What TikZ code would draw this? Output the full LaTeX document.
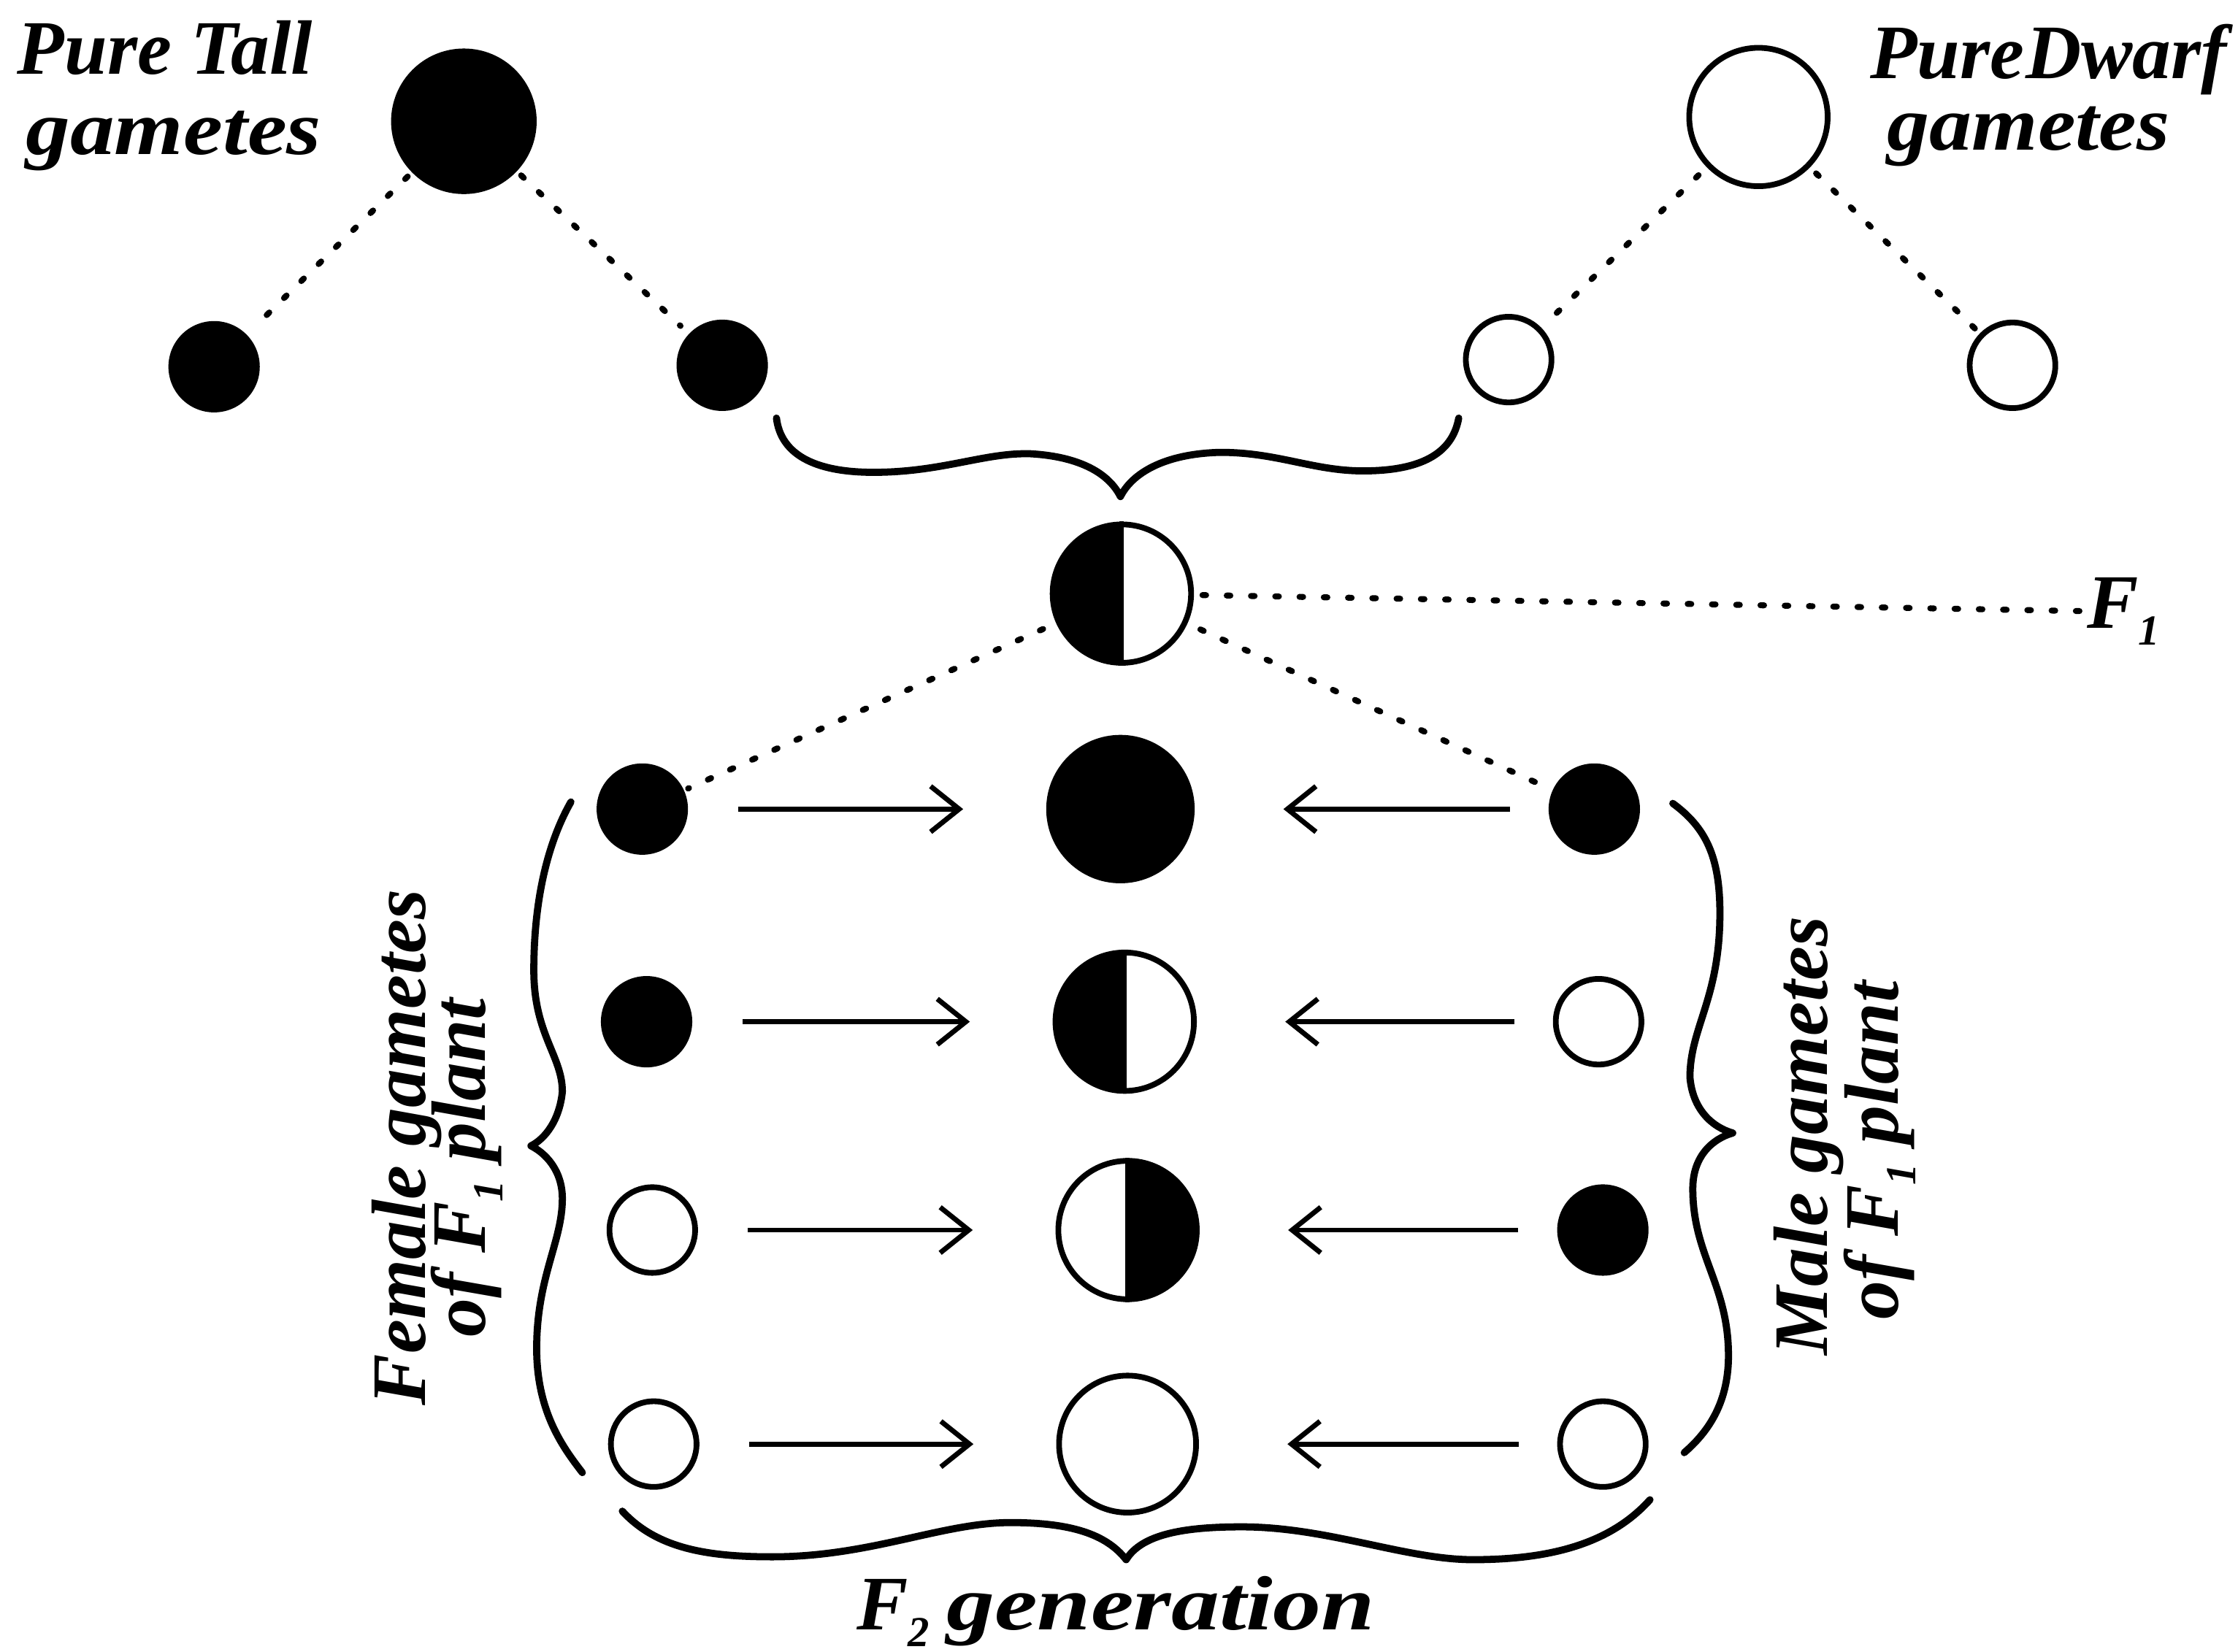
\documentclass[tikz,border=0pt]{standalone}
\usepackage{fontspec}
\setmainfont{Liberation Serif}
\usetikzlibrary{arrows.meta}
\newcommand\lowsub[1]{\raisebox{-12pt}{\fontsize{30}{30}\selectfont #1}}
\newcommand\widen[2]{\scalebox{#1}[1]{#2}}
\begin{document}
\begin{tikzpicture}[x=1pt,y=-1pt,
  lbl/.style={font=\fontsize{54}{60}\selectfont\bfseries\itshape, inner sep=0pt},
  fullg/.style={circle, fill=black, inner sep=0pt, minimum size=#1},
  openg/.style={circle, draw=black, line width=4pt, fill=white, inner sep=0pt, minimum size=#1},
  halfL/.style={openg=97, path picture={\fill[black] (path picture bounding box.south west) rectangle (path picture bounding box.north);}},
  halfR/.style={openg=97, path picture={\fill[black] (path picture bounding box.south east) rectangle (path picture bounding box.north);}},
  dotline/.style={line width=4.2pt, dash pattern=on 2.5pt off 14.5pt, line cap=round},
  arr/.style={line width=3.5pt, -{Straight Barb[length=20pt,width=32pt,line width=3.5pt]}},
  brace/.style={line width=5pt, line cap=round, line join=round},
  divider/.style={line width=3pt},
]
\useasboundingbox (0,0) rectangle (1568,1157.7);

% parents
\node[fullg=102] (tall) at (325,85) {};
\node[openg=97] (dwarf) at (1232,82) {};
\node[fullg=64] (t1) at (150,257) {};
\node[fullg=64] (t2) at (506,256) {};
\node[openg=60] (d1) at (1057,252) {};
\node[openg=60] (d2) at (1410,256) {};

% F1
\node[halfL] (f1) at (786,416) {};
\draw[divider] (f1.north) -- (f1.south);

% rows
\node[fullg=64] (fa) at (450,567) {};
\node[fullg=104] (ca) at (785,567) {};
\node[fullg=64] (ma) at (1117,567) {};

\node[fullg=64] (fb) at (453,716) {};
\node[halfL] (cb) at (788,716) {};
\draw[divider] (cb.north) -- (cb.south);
\node[openg=60] (mb) at (1120,716) {};

\node[openg=60] (fc) at (457,862) {};
\node[halfR] (cc) at (790,862) {};
\draw[divider] (cc.north) -- (cc.south);
\node[fullg=64] (mc) at (1123,862) {};

\node[openg=60] (fd) at (458,1012) {};
\node[openg=96] (cd) at (790,1012) {};
\node[openg=60] (md) at (1123,1012) {};

% labels
\node[lbl, anchor=base west] (ptall) at (12,52) {Pure Tall};
\node[lbl, anchor=base west] (gtall) at (18,108) {\widen{1.15}{gametes}};
\node[lbl, anchor=base west] (pdwarf) at (1310,55) {Pure\hspace{1pt}Dwarf};
\node[lbl, anchor=base west] (gdwarf) at (1322,105) {\widen{1.1}{gametes}};
\node[lbl, anchor=base west] (flab) at (1462,440) {F\lowsub{1}};
\node[lbl, anchor=base west] (f2lab) at (600,1142) {F\lowsub{2}\hspace{12pt}\widen{1.25}{generation}};
\node[lbl, anchor=base west, rotate=90] (fem1) at (298,985) {Female gametes};
\node[lbl, anchor=base west, rotate=90] (fem2) at (340,937) {of F\lowsub{1} plant};
\node[lbl, anchor=base west, rotate=90] (male1) at (1280,950) {Male gametes};
\node[lbl, anchor=base west, rotate=90] (male2) at (1330,925) {of F\lowsub{1} plant};

% dotted connectors
\draw[dotline, shorten <=4pt, shorten >=14pt] (tall) -- (t1);
\draw[dotline, shorten <=4pt, shorten >=8pt] (tall) -- (t2);
\draw[dotline, shorten <=8pt, shorten >=7pt] (dwarf) -- (d1);
\draw[dotline, shorten <=6pt, shorten >=3pt] (dwarf) -- (d2);
\draw[dotline, shorten <=6pt, shorten >=4pt] (f1) -- (flab.west);
\draw[dotline, shorten <=10pt, shorten >=3pt] (f1) -- (fa);
\draw[dotline, shorten <=10pt, shorten >=3pt] (f1) -- (ma);

% arrows
\foreach \a/\b in {fa/ca, fb/cb, fc/cc, fd/cd}
  \draw[arr, shorten <=35pt, shorten >=58pt] (\a) -- (\b);
\foreach \a/\b in {ma/ca, mb/cb, mc/cc, md/cd}
  \draw[arr, shorten <=27pt, shorten >=62pt] (\a) -- (\b);

% braces
\draw[brace] (544,293) .. controls (547,318) and (570,331) .. (612,331)
  .. controls (660,331) and (690,317) .. (722,318)
  .. controls (757,320) and (777,332) .. (785,348)
  .. controls (793,332) and (815,318) .. (855,317)
  .. controls (895,317) and (920,330) .. (955,330)
  .. controls (1000,330) and (1018,315) .. (1022,293);

\draw[brace] (436,1059) .. controls (460,1085) and (495,1091) .. (541,1091)
  .. controls (610,1091) and (660,1067) .. (708,1067)
  .. controls (750,1067) and (775,1075) .. (789,1093)
  .. controls (800,1075) and (830,1070) .. (870,1070)
  .. controls (930,1070) and (985,1093) .. (1032,1093)
  .. controls (1090,1093) and (1130,1080) .. (1156,1051);

\draw[brace] (400,562) .. controls (384,590) and (374,630) .. (374,680)
  .. controls (374,725) and (394,740) .. (394,765)
  .. controls (392,785) and (382,798) .. (372,803)
  .. controls (382,808) and (394,820) .. (394,840)
  .. controls (394,870) and (376,895) .. (376,945)
  .. controls (376,990) and (395,1015) .. (408,1032);

\draw[brace] (1172,563) .. controls (1195,580) and (1205,600) .. (1205,640)
  .. controls (1205,700) and (1184,720) .. (1184,755)
  .. controls (1186,778) and (1200,790) .. (1214,794)
  .. controls (1200,798) and (1186,810) .. (1186,833)
  .. controls (1186,880) and (1211,900) .. (1211,950)
  .. controls (1211,985) and (1195,1005) .. (1180,1018);
\end{tikzpicture}
\end{document}
